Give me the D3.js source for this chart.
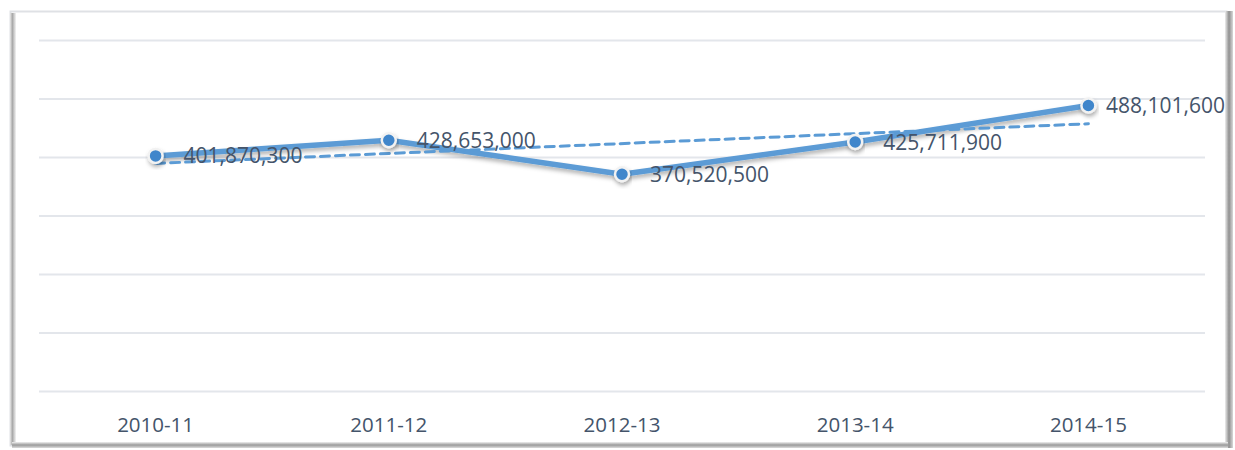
<!DOCTYPE html>
<html>
<head>
<meta charset="utf-8">
<script src="https://cdn.jsdelivr.net/npm/d3@7"></script>
<style>
  html, body { margin: 0; padding: 0; background: #ffffff; }
  svg { display: block; }
</style>
</head>
<body>
<svg id="chart"></svg>
<script>
// chart data
const categories = ["2010-11", "2011-12", "2012-13", "2013-14", "2014-15"];
const values = [401870300, 428653000, 370520500, 425711900, 488101600];
const yTicks = [0, 100000000, 200000000, 300000000, 400000000, 500000000, 600000000];

const width = 1235;
const height = 450;
const margin = { top: 40, right: 30, bottom: 59, left: 39 };

const lineColor = "#5b9bd5";
const textColor = "#44546a";
const gridColor = "#e3e6eb";
const fontFamily = "'Open Sans', sans-serif";

const svg = d3.select("#chart")
  .attr("width", width)
  .attr("height", height);

const defs = svg.append("defs");

// shadow for line and markers
const shadow = defs.append("filter")
  .attr("id", "shadow")
  .attr("x", "-20%").attr("y", "-50%")
  .attr("width", "140%").attr("height", "200%");
shadow.append("feDropShadow")
  .attr("dx", 1).attr("dy", 3)
  .attr("stdDeviation", 2)
  .attr("flood-color", "#000")
  .attr("flood-opacity", 0.3);

// frame shading gradients
const leftGrad = defs.append("linearGradient").attr("id", "leftGrad")
  .attr("x1", 0).attr("x2", 1).attr("y1", 0).attr("y2", 0);
leftGrad.append("stop").attr("offset", "0%").attr("stop-color", "#e8e8e8");
leftGrad.append("stop").attr("offset", "40%").attr("stop-color", "#a8a8a8");
leftGrad.append("stop").attr("offset", "100%").attr("stop-color", "#f4f4f4");

const rightGrad = defs.append("linearGradient").attr("id", "rightGrad")
  .attr("x1", 0).attr("x2", 1).attr("y1", 0).attr("y2", 0);
rightGrad.append("stop").attr("offset", "0%").attr("stop-color", "#eeeeee");
rightGrad.append("stop").attr("offset", "50%").attr("stop-color", "#8f8f8f");
rightGrad.append("stop").attr("offset", "100%").attr("stop-color", "#d8d8d8");

const bottomGrad = defs.append("linearGradient").attr("id", "bottomGrad")
  .attr("x1", 0).attr("x2", 0).attr("y1", 0).attr("y2", 1);
bottomGrad.append("stop").attr("offset", "0%").attr("stop-color", "#f0f0f0");
bottomGrad.append("stop").attr("offset", "50%").attr("stop-color", "#9a9a9a");
bottomGrad.append("stop").attr("offset", "100%").attr("stop-color", "#dcdcdc");

// chart frame
svg.append("rect")
  .attr("x", 10.5).attr("y", 11.5)
  .attr("width", 1216).attr("height", 434)
  .attr("fill", "#ffffff")
  .attr("stroke", "#dfe1e5")
  .attr("stroke-width", 2);
svg.append("rect").attr("x", 10).attr("y", 13).attr("width", 6).attr("height", 432).attr("fill", "url(#leftGrad)");
svg.append("rect").attr("x", 1225).attr("y", 11).attr("width", 8).attr("height", 437).attr("fill", "url(#rightGrad)");
svg.append("rect").attr("x", 12).attr("y", 442).attr("width", 1216).attr("height", 6).attr("fill", "url(#bottomGrad)");

const x = d3.scaleBand()
  .domain(categories)
  .range([margin.left, width - margin.right]);

const y = d3.scaleLinear()
  .domain([0, 600000000])
  .range([height - margin.bottom, margin.top]);

// gridlines
svg.append("g")
  .attr("transform", `translate(${margin.left},0)`)
  .call(d3.axisLeft(y).tickValues(yTicks).tickSize(-(width - margin.left - margin.right)).tickFormat(""))
  .call((g) => g.select(".domain").remove())
  .call((g) => g.selectAll("line").attr("stroke", gridColor).attr("stroke-width", 2));

// x axis labels
svg.append("g")
  .attr("transform", `translate(0,${height - margin.bottom})`)
  .call(d3.axisBottom(x).tickSize(0).tickPadding(26))
  .call((g) => g.select(".domain").remove())
  .selectAll("text")
  .attr("fill", textColor)
  .style("font-family", fontFamily)
  .style("font-size", "20.5px");

const cx = (d, i) => x(categories[i]) + x.bandwidth() / 2;

// main line
const line = d3.line()
  .x((d, i) => cx(d, i))
  .y((d) => y(d));

svg.append("path")
  .datum(values)
  .attr("d", line)
  .attr("fill", "none")
  .attr("stroke", lineColor)
  .attr("stroke-width", 5.5)
  .attr("stroke-linejoin", "round")
  .attr("filter", "url(#shadow)");

// linear trendline
const n = values.length;
const meanX = (n - 1) / 2;
const meanY = d3.mean(values);
const slope = d3.sum(values, (v, i) => (i - meanX) * (v - meanY)) / d3.sum(values, (v, i) => (i - meanX) * (i - meanX));
const trend = [0, n - 1].map((i) => ({ i, v: meanY + slope * (i - meanX) }));

svg.append("path")
  .datum(trend)
  .attr("d", d3.line().x((d) => x(categories[d.i]) + x.bandwidth() / 2).y((d) => y(d.v)))
  .attr("fill", "none")
  .attr("stroke", lineColor)
  .attr("stroke-width", 3)
  .attr("stroke-dasharray", "9,6")
  .attr("stroke-linecap", "round");

// markers
svg.selectAll(".point")
  .data(values)
  .enter()
  .append("circle")
  .attr("class", "point")
  .attr("cx", cx)
  .attr("cy", (d) => y(d))
  .attr("r", 7)
  .attr("fill", "#3f86cb")
  .attr("stroke", "#f2f2f2")
  .attr("stroke-width", 2.5)
  .attr("filter", "url(#shadow)");

// data labels
const labelRight = 1225;
svg.selectAll(".label")
  .data(values)
  .enter()
  .append("text")
  .attr("class", "label")
  .attr("y", (d) => y(d))
  .attr("dy", "0.36em")
  .attr("fill", textColor)
  .style("font-family", fontFamily)
  .style("font-size", "21px")
  .text((d) => d3.format(",")(d))
  .attr("x", function (d, i) {
    const w = this.getComputedTextLength();
    return Math.min(cx(d, i) + 28, labelRight - w);
  });
</script>
</body>
</html>
